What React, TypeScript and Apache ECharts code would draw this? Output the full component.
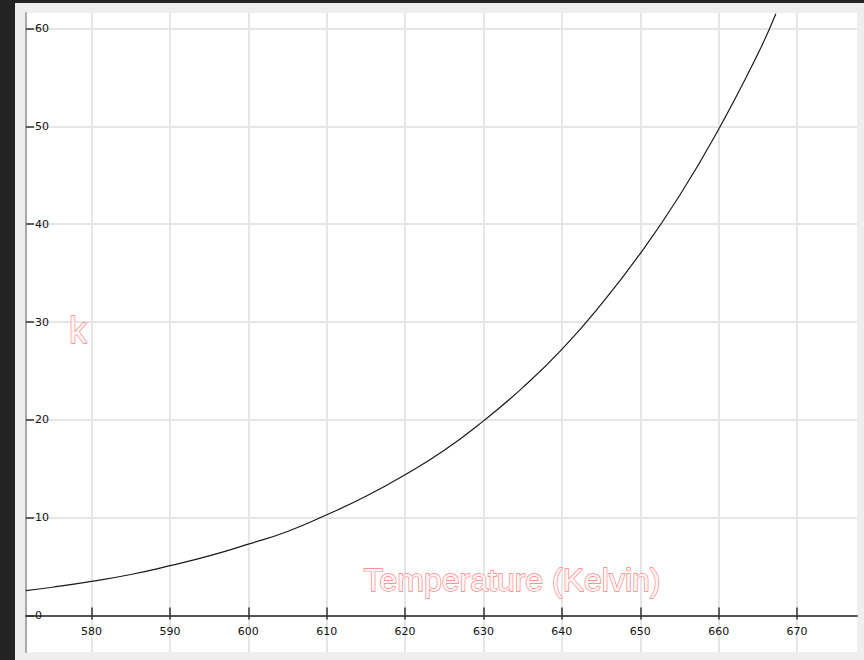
import React, { useEffect, useRef } from "react";
import * as echarts from "echarts";

// Temperature (K) and rate constant k
const temps = [571.6, 575, 580, 585, 590, 595, 600, 605, 610, 615, 620, 625, 630, 635, 640, 645, 650, 655, 660, 665, 667.3];
const kValues = [2.55, 2.9, 3.5, 4.2, 5.1, 6.1, 7.3, 8.6, 10.3, 12.2, 14.4, 16.9, 19.9, 23.3, 27.2, 31.8, 37.0, 42.9, 49.7, 57.4, 61.5];

const xTicks = [580, 590, 600, 610, 620, 630, 640, 650, 660, 670];
const yTicks = [0, 10, 20, 30, 40, 50, 60];

const xName = "Temperature (Kelvin)";
const yName = "k";

export default function App() {
  const ref = useRef<HTMLDivElement>(null);

  useEffect(() => {
    if (!ref.current) return;
    const chart = echarts.init(ref.current, undefined, { renderer: "svg" });
    const data = temps.map((t, i) => [t, kValues[i]]);
    const labelFont = { fontFamily: "DejaVu Sans", fontSize: 11, color: "#111" };
    chart.setOption({
      animation: false,
      grid: {
        show: true,
        left: 11,
        top: 10,
        right: 7,
        bottom: 8,
        containLabel: false,
        outerBoundsMode: "none",
        backgroundColor: "#ffffff",
        borderWidth: 0,
      },
      xAxis: [
        {
          type: "value",
          min: 571.64,
          max: 677.65,
          splitNumber: 10,
          minInterval: 10,
          maxInterval: 10,
          axisLine: { show: true, onZero: true, onZeroAxisIndex: 0, lineStyle: { color: "#555", width: 2 } },
          axisTick: { show: true, inside: false, length: 4, customValues: xTicks, lineStyle: { color: "#333", width: 1.5 } },
          axisLabel: { show: true, customValues: xTicks, margin: -26, ...labelFont },
          splitLine: { show: true, lineStyle: { color: "#e6e6e6", width: 2 } },
        },
        {
          type: "value",
          position: "top",
          min: 571.64,
          max: 677.65,
          splitNumber: 10,
          minInterval: 10,
          maxInterval: 10,
          axisLine: { show: false, onZero: true, onZeroAxisIndex: 0 },
          axisTick: { show: true, inside: false, length: 8, customValues: xTicks, lineStyle: { color: "#333", width: 1.5 } },
          axisLabel: { show: false },
          splitLine: { show: false },
        },
      ],
      yAxis: {
        type: "value",
        min: -3.72,
        max: 61.58,
        splitNumber: 6,
        minInterval: 10,
        maxInterval: 10,
        axisLine: { show: true, onZero: false, lineStyle: { color: "#a8a8a8", width: 2 } },
        axisTick: { show: true, inside: true, length: 8, customValues: yTicks, lineStyle: { color: "#333", width: 1.5 } },
        axisLabel: { show: true, inside: true, margin: 9, customValues: yTicks, ...labelFont },
        splitLine: { show: true, lineStyle: { color: "#e6e6e6", width: 2 } },
      },
      graphic: [
        {
          type: "text",
          x: 497,
          y: 577,
          z: 100,
          style: {
            text: xName,
            fontFamily: "Liberation Sans",
            fontSize: 32,
            fill: "#fff4f4",
            stroke: "#ff8080",
            lineWidth: 1.3,
            align: "center",
            verticalAlign: "middle",
          },
        },
        {
          type: "text",
          x: 63,
          y: 327,
          z: 100,
          style: {
            text: yName,
            fontFamily: "Liberation Sans",
            fontSize: 36,
            fill: "#fff4f4",
            stroke: "#ff8080",
            lineWidth: 1.3,
            align: "center",
            verticalAlign: "middle",
          },
        },
      ],
      series: [
        {
          type: "line",
          xAxisIndex: 0,
          yAxisIndex: 0,
          data,
          smooth: true,
          showSymbol: false,
          symbol: "none",
          clip: true,
          lineStyle: { color: "#1a1a1a", width: 1.2 },
        },
      ],
    });
    return () => chart.dispose();
  }, []);

  return (
    <div style={{ position: "fixed", left: 0, top: 0, width: 864, height: 660, background: "#242424" }}>
      <div style={{ position: "absolute", left: 15, top: 3, width: 849, height: 657, background: "#eeeeee" }}>
        <div ref={ref} style={{ width: 849, height: 657 }} />
      </div>
    </div>
  );
}
